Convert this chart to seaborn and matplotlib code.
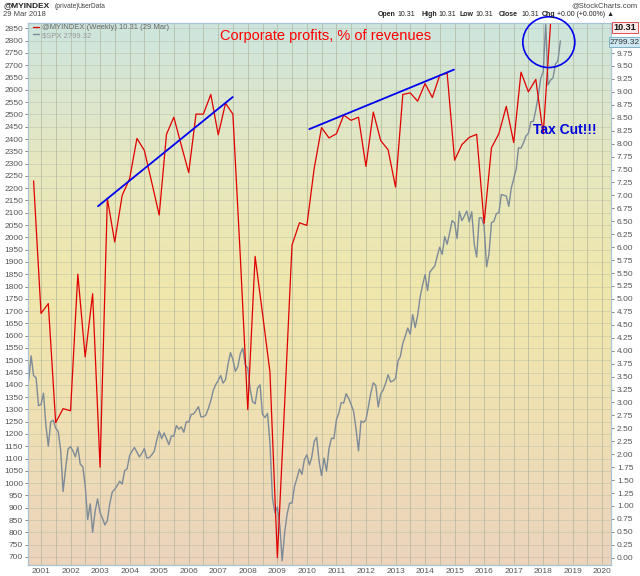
import numpy as np
import pandas as pd
import matplotlib
matplotlib.use("Agg")
import matplotlib.pyplot as plt
import matplotlib.dates as mdates
import seaborn as sns
from matplotlib.colors import LinearSegmentedColormap
from matplotlib.patches import Ellipse

# Corporate profits, % of revenues (quarterly, right axis)
lucro_inicio = "2000-09-30"
lucro_valores = [7.28, 4.72, 4.91, 2.61, 2.88, 2.84, 5.48, 3.88, 5.10, 1.75,
                 6.94, 6.10, 7.00, 7.32, 8.10, 7.87, 7.25, 6.62, 8.18, 8.51,
                 7.97, 7.44, 8.57, 8.57, 8.95, 8.17, 8.78, 8.57, 5.81, 2.86,
                 5.82, 4.72, 3.59, 0.00, 2.98, 6.04, 6.47, 6.42, 7.52, 8.31,
                 8.11, 8.19, 8.55, 8.45, 8.51, 7.56, 8.61, 8.06, 7.88, 7.16,
                 8.95, 8.98, 8.82, 9.16, 8.89, 9.32, 9.36, 7.68, 7.98, 8.12,
                 8.18, 6.46, 7.92, 8.19, 8.72, 8.02, 9.38, 9.00, 9.24, 8.19,
                 10.31]

# S&P 500 (monthly, left axis)
spx_inicio = "2000-07-31"
spx_valores = [1419, 1518, 1437, 1429, 1315, 1320,
               1366, 1240, 1150, 1249, 1256, 1224, 1211, 1134, 966, 1060, 1139, 1148,
               1130, 1107, 1147, 1077, 1067, 990, 852, 916, 800, 886, 936, 880,
               856, 830, 848, 917, 964, 975, 990, 1008, 996, 1051, 1058, 1112,
               1131, 1145, 1126, 1107, 1121, 1141, 1102, 1104, 1115, 1130, 1174, 1212,
               1181, 1204, 1181, 1157, 1192, 1191, 1234, 1220, 1229, 1207, 1249, 1248,
               1280, 1281, 1295, 1311, 1270, 1270, 1277, 1304, 1336, 1378, 1401, 1418,
               1438, 1407, 1421, 1482, 1531, 1503, 1455, 1474, 1527, 1549, 1481, 1468,
               1379, 1331, 1323, 1386, 1400, 1280, 1267, 1283, 1166, 940, 880, 903,
               826, 684, 798, 873, 919, 919, 987, 1021, 1057, 1036, 1096, 1115,
               1074, 1104, 1169, 1187, 1089, 1031, 1102, 1049, 1141, 1183, 1181, 1258,
               1286, 1327, 1326, 1364, 1345, 1321, 1292, 1219, 1131, 1253, 1247, 1258,
               1312, 1366, 1408, 1398, 1310, 1362, 1379, 1407, 1441, 1412, 1416, 1426,
               1498, 1515, 1569, 1598, 1631, 1606, 1686, 1633, 1682, 1757, 1806, 1848,
               1783, 1859, 1872, 1884, 1924, 1960, 1931, 2003, 1972, 2018, 2068, 2059,
               1995, 2105, 2068, 2086, 2107, 2063, 2104, 1972, 1920, 2079, 2080, 2044,
               1880, 1932, 2060, 2065, 2097, 2099, 2174, 2171, 2168, 2126, 2199, 2239,
               2279, 2364, 2363, 2384, 2412, 2423, 2470, 2472, 2519, 2575, 2648, 2674,
               2872, 2620, 2640, 2648, 2705, 2718, 2799]

# anotacoes desenhadas a mao
tendencia1_datas = ["2002-12-05", "2007-06-28"]
tendencia1_valores = [6.79, 8.90]
tendencia2_datas = ["2010-01-30", "2014-12-24"]
tendencia2_valores = [8.28, 9.43]
circulo_centro = ("2018-03-10", 9.96)

lucro = pd.DataFrame({"data": pd.date_range(lucro_inicio, periods=len(lucro_valores), freq="QE"),
                      "valor": lucro_valores})
spx = pd.DataFrame({"data": pd.date_range(spx_inicio, periods=len(spx_valores), freq="ME"),
                    "valor": spx_valores})

sns.set_style("white")
plt.rcParams["font.family"] = ["Liberation Sans", "DejaVu Sans"]

W, H = 640, 576
fig = plt.figure(figsize=(6.4, 5.76), dpi=100)
rect = [28 / W, 1 - 565 / H, (610.7 - 28) / W, (565 - 23) / H]

# fundo degrade
bg = fig.add_axes(rect, zorder=-1)
cmap = LinearSegmentedColormap.from_list("fundo", ["#cde5de", "#e6e7c0", "#f0e7ab", "#efdfb4", "#ebd3bd"])
bg.imshow(np.linspace(0, 1, 256).reshape(-1, 1), cmap=cmap, aspect="auto", extent=[0, 1, 0, 1])
bg.axis("off")

ax = fig.add_axes(rect)
ax.patch.set_alpha(0)
sns.lineplot(data=spx, x="data", y="valor", ax=ax, color="#7d8b98", linewidth=1.0,
             label="$SPX 2799.32")
ax.set_ylim(667, 2872)
ax.set_xlim(pd.Timestamp("2000-07-23"), pd.Timestamp("2020-04-13"))
ax.set_yticks(np.arange(700, 2851, 50))
ax.xaxis.set_major_locator(mdates.YearLocator())
ax.xaxis.set_major_formatter(mdates.DateFormatter("%Y"))
ax.xaxis.set_minor_locator(mdates.MonthLocator(bymonth=[1, 7]))
ax.grid(which="both", axis="x", color="#a9ad98", linewidth=0.6, alpha=0.7)
ax.grid(which="major", axis="y", color="#b5b9a5", linewidth=0.5, alpha=0.6)
ax.tick_params(axis="y", labelsize=6, colors="#555555", length=2.5, pad=1, width=0.5)
ax.tick_params(axis="x", which="both", labelsize=6, colors="#555555", length=0, pad=2)
ax.set_xlabel("")
ax.set_ylabel("")
ax.get_legend().remove()

ax2 = ax.twinx()
sns.lineplot(data=lucro, x="data", y="valor", ax=ax2, color="#e00000", linewidth=0.9,
             label="@MYINDEX (Weekly) 10.31 (29 Mar)")
ax2.set_ylim(-0.14, 10.33)
ax2.set_yticks(np.arange(0, 9.76, 0.25))
ax2.yaxis.set_major_formatter(matplotlib.ticker.FormatStrFormatter("%.2f"))
ax2.tick_params(axis="y", labelsize=6, colors="#555555", length=2.5, pad=2, width=0.5)
ax2.set_xlabel("")
ax2.set_ylabel("")

ax2.plot(pd.to_datetime(tendencia1_datas), tendencia1_valores, color="#0000ee", linewidth=1.3)
ax2.plot(pd.to_datetime(tendencia2_datas), tendencia2_valores, color="#0000ee", linewidth=1.3)
ax2.add_patch(Ellipse((mdates.date2num(pd.Timestamp(circulo_centro[0])), circulo_centro[1]),
                      width=643, height=0.98, fill=False, edgecolor="#0000ee",
                      linewidth=1.2, clip_on=False, zorder=5))

h1, l1 = ax2.get_legend_handles_labels()
h0, l0 = ax.get_legend_handles_labels()
leg = ax2.legend(h1 + h0, l1 + l0, loc="upper left", bbox_to_anchor=(0.0, 1.008), frameon=False,
                 fontsize=5.5, handlelength=0.7, handletextpad=0.4, labelspacing=0.05,
                 borderaxespad=0.3)
for t, c in zip(leg.get_texts(), ["#666666", "#999999"]):
    t.set_color(c)

for a in (ax, ax2):
    for s in a.spines.values():
        s.set_color("#a8c3d4")
        s.set_linewidth(0.8)

ax2.text(0.51, 1 - (36 - 23) / 542, "Corporate profits, % of revenues", transform=ax2.transAxes,
         color="#ff0000", fontsize=10.5, ha="center", va="center")
ax2.text(0.975, 1 - (130 - 23) / 542, "Tax Cut!!!", transform=ax2.transAxes, color="#0000dd",
         fontsize=10, fontweight="bold", ha="right", va="center")

# cabecalho
def px(x, y):
    return x / W, 1 - y / H

fig.text(*px(3, 6), "@MYINDEX", fontsize=6, fontweight="bold", va="center", color="#222222")
fig.text(*px(55, 6), "(private)", fontsize=4.8, va="center", color="#444444")
fig.text(*px(78, 6), "UserData", fontsize=4.8, va="center", color="#444444")
fig.text(*px(3, 14.5), "29 Mar 2018", fontsize=5.5, va="center", color="#444444")
fig.text(*px(637, 6), "@StockCharts.com", fontsize=5.5, va="center", ha="right", color="#444444")
partes = [("Open", True, 378), ("10.31", False, 397), ("High", True, 422), ("10.31", False, 438),
          ("Low", True, 460), ("10.31", False, 475), ("Close", True, 499), ("10.31", False, 521),
          ("Chg", True, 542), ("+0.00 (+0.00%) \u25b2", False, 557)]
for texto, negrito, x in partes:
    fig.text(*px(x, 15), texto, fontsize=5, va="center", color="#222222",
             fontweight="bold" if negrito else "normal", family=["Liberation Sans", "DejaVu Sans"])

fig.text(*px(625, 27.5), "10.31", fontsize=6.5, fontweight="bold", ha="center", va="center",
         color="#111111", bbox=dict(boxstyle="square,pad=0.15", fc="#fbeaea", ec="#e05050", lw=0.7))
fig.text(*px(625, 42), "2799.32", fontsize=6, ha="center", va="center", color="#333333",
         bbox=dict(boxstyle="square,pad=0.15", fc="#cfe9f2", ec="#7fb3c8", lw=0.7))

plt.savefig("out.png", dpi=100)
